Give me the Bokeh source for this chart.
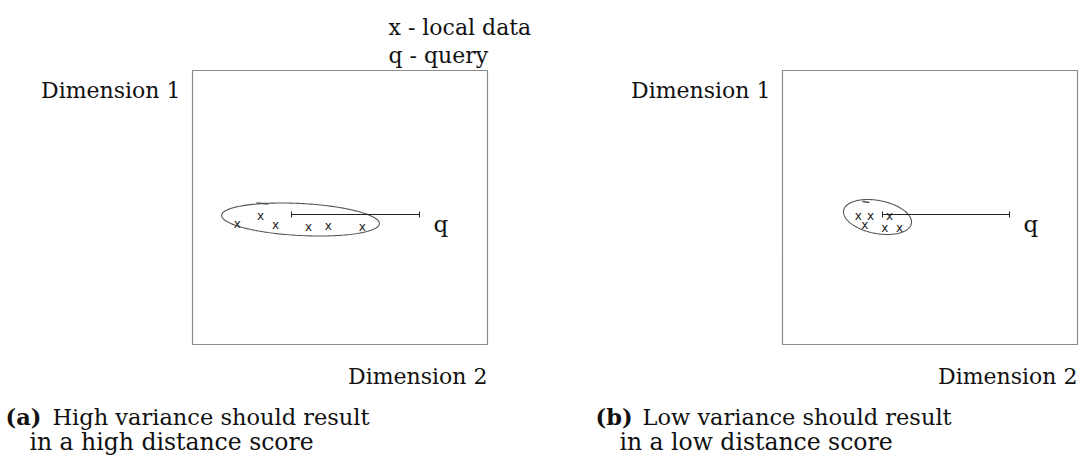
import numpy as np
from bokeh.plotting import figure
from bokeh.models import Range1d
from bokeh.core.properties import value
from bokeh.embed import file_html
from bokeh.resources import INLINE

# ---------------- data (panel-local coordinates, box is 295 x 274, y downwards) ----------
panels = ["a", "b"]
points_x = {"a": [44.7, 68.0, 83.0, 116.0, 135.7, 169.7],
            "b": [75.7, 88.0, 107.0, 82.3, 102.3, 117.0]}
points_y = {"a": [150.0, 142.3, 150.7, 153.0, 152.0, 153.0],
            "b": [141.7, 142.0, 142.0, 151.0, 153.7, 154.0]}
query_x = [227.0, 227.0]
query_y = [144.0, 144.0]
dist_start_x = [99.0, 100.0]
# enclosing blob: centre x, centre y, half length, half width, tilt (deg)
blob_cx = [108.0, 95.0]
blob_cy = [149.0, 146.5]
blob_a = [79.0, 34.5]
blob_b = [16.0, 16.5]
blob_tilt = [3.0, 11.0]
# pen-start mark on top of each blob (x0, y0, x1, y1)
pen_x0 = [64.0, 80.0]
pen_y0 = [132.5, 131.0]
pen_x1 = [76.0, 87.0]
pen_y1 = [133.5, 132.0]
dim1_label = "Dimension 1"
dim2_label = "Dimension 2"
caption_tag = ["(a)", "(b)"]
caption_line1 = ["High variance should result", "Low variance should result"]
caption_line2 = ["in a high distance score", "in a low distance score"]
legend_lines = ["x - local data", "q - query"]

# ---------------- layout ----------------
W, H = 1079, 473
box_left = [192, 782]
box_top = 70
box_w, box_h = 295, 274
serif = value("DejaVu Serif")
FS = "22px"
FSC = "22.5px"
FSC2 = "23.5px"

p = figure(width=W, height=H, x_range=Range1d(0, W), y_range=Range1d(H, 0),
           output_backend="svg", toolbar_location=None, min_border=0)
p.axis.visible = False
p.grid.visible = False
p.outline_line_color = None
p.background_fill_color = "white"
p.border_fill_color = "white"

for i, k in enumerate(panels):
    ox, oy = box_left[i], box_top
    # frame
    p.quad(left=[ox], right=[ox + box_w], top=[oy], bottom=[oy + box_h],
           fill_color=None, line_color="#8a8a8a", line_width=1.2)
    # axis labels
    p.text(x=[ox - 12], y=[oy + 20], text=[dim1_label], text_font=serif,
           text_font_size=FS, text_align="right", text_baseline="alphabetic", text_color="#111")
    p.text(x=[ox + box_w], y=[oy + box_h + 32], text=[dim2_label], text_font=serif,
           text_font_size=FS, text_align="right", text_baseline="alphabetic", text_color="#111")
    # blob
    t = np.linspace(0, 2 * np.pi, 200)
    th = np.deg2rad(blob_tilt[i])
    ex = blob_a[i] * np.cos(t)
    ey = blob_b[i] * np.sin(t)
    bx = ox + blob_cx[i] + ex * np.cos(th) - ey * np.sin(th)
    by = oy + blob_cy[i] + ex * np.sin(th) + ey * np.cos(th)
    p.patch(x=list(bx), y=list(by), fill_color=None, line_color="#555555", line_width=1.1)
    p.segment(x0=[ox + pen_x0[i]], y0=[oy + pen_y0[i]], x1=[ox + pen_x1[i]],
              y1=[oy + pen_y1[i]], line_color="#555", line_width=1.4)
    # local data points
    px = [ox + v for v in points_x[k]]
    py = [oy + v + 3.5 for v in points_y[k]]
    p.text(x=px, y=py, text=["x"] * len(px), text_font=value("DejaVu Sans"),
           text_font_size="12px", text_align="center", text_baseline="alphabetic",
           text_color="#222")
    # distance line with end ticks
    sx, qx, qy = ox + dist_start_x[i], ox + query_x[i], oy + query_y[i]
    p.segment(x0=[sx], y0=[qy], x1=[qx], y1=[qy], line_color="#222", line_width=1.2)
    p.segment(x0=[sx, qx], y0=[qy - 3, qy - 3], x1=[sx, qx], y1=[qy + 3, qy + 3],
              line_color="#222", line_width=1)
    # query label
    p.text(x=[qx + 14], y=[qy + 9], text=["q"], text_font=serif, text_font_size="23px",
           text_align="left", text_baseline="alphabetic", text_color="#111")
    # caption
    cx = ox - 187
    p.text(x=[cx], y=[416], text=[caption_tag[i]], text_font=serif, text_font_size=FSC,
           text_font_style="bold", text_align="left", text_baseline="alphabetic", text_color="#111")
    p.text(x=[cx + 47], y=[416], text=[caption_line1[i]], text_font=serif, text_font_size=FSC,
           text_align="left", text_baseline="alphabetic", text_color="#111")
    p.text(x=[cx + 24], y=[441], text=[caption_line2[i]], text_font=serif, text_font_size=FSC2,
           text_align="left", text_baseline="alphabetic", text_color="#111")

# legend text above panel (a)
p.text(x=[388, 388], y=[27, 55], text=legend_lines, text_font=serif, text_font_size=FS,
       text_align="left", text_baseline="alphabetic", text_color="#111")

open("out.html", "w").write(file_html(p, INLINE))
